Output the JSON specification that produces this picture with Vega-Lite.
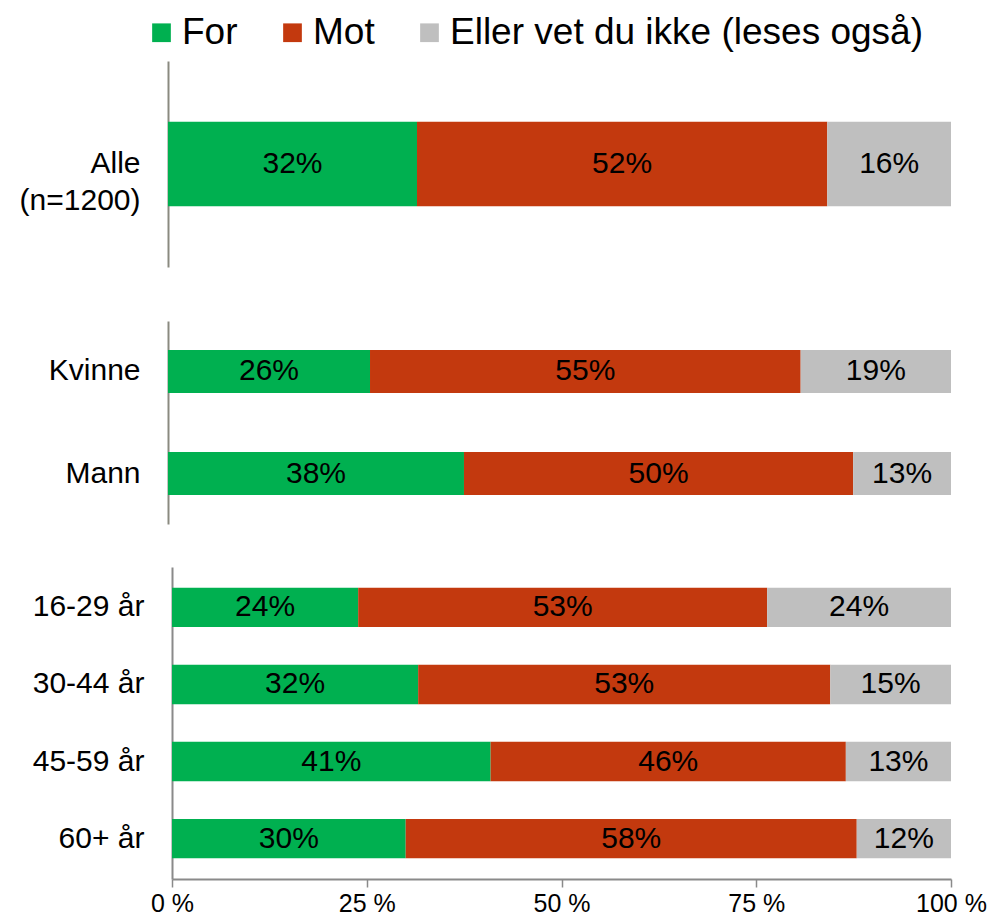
{
  "$schema": "https://vega.github.io/schema/vega-lite/v6.json",
  "background": "white",
  "padding": {"left": 7, "top": 14, "right": 40, "bottom": 0},
  "config": {
    "view": {"stroke": null},
    "font": "Liberation Sans",
    "axis": {"labelFont": "Liberation Sans", "labelColor": "black"},
    "legend": {"labelFont": "Liberation Sans"}
  },
  "datasets": {
    "d": [
      {"grp": "a", "cat": "Alle|(n=1200)", "resp": "For", "k": 1, "value": 31.8, "label": "32%"},
      {"grp": "a", "cat": "Alle|(n=1200)", "resp": "Mot", "k": 2, "value": 52.4, "label": "52%"},
      {"grp": "a", "cat": "Alle|(n=1200)", "resp": "Eller vet du ikke (leses også)", "k": 3, "value": 15.8, "label": "16%"},
      {"grp": "g", "cat": "Kvinne", "resp": "For", "k": 1, "value": 25.8, "label": "26%"},
      {"grp": "g", "cat": "Kvinne", "resp": "Mot", "k": 2, "value": 55.0, "label": "55%"},
      {"grp": "g", "cat": "Kvinne", "resp": "Eller vet du ikke (leses også)", "k": 3, "value": 19.2, "label": "19%"},
      {"grp": "g", "cat": "Mann", "resp": "For", "k": 1, "value": 37.8, "label": "38%"},
      {"grp": "g", "cat": "Mann", "resp": "Mot", "k": 2, "value": 49.7, "label": "50%"},
      {"grp": "g", "cat": "Mann", "resp": "Eller vet du ikke (leses også)", "k": 3, "value": 12.5, "label": "13%"},
      {"grp": "age", "cat": "16-29 år", "resp": "For", "k": 1, "value": 23.9, "label": "24%"},
      {"grp": "age", "cat": "16-29 år", "resp": "Mot", "k": 2, "value": 52.5, "label": "53%"},
      {"grp": "age", "cat": "16-29 år", "resp": "Eller vet du ikke (leses også)", "k": 3, "value": 23.6, "label": "24%"},
      {"grp": "age", "cat": "30-44 år", "resp": "For", "k": 1, "value": 31.6, "label": "32%"},
      {"grp": "age", "cat": "30-44 år", "resp": "Mot", "k": 2, "value": 52.9, "label": "53%"},
      {"grp": "age", "cat": "30-44 år", "resp": "Eller vet du ikke (leses også)", "k": 3, "value": 15.5, "label": "15%"},
      {"grp": "age", "cat": "45-59 år", "resp": "For", "k": 1, "value": 40.9, "label": "41%"},
      {"grp": "age", "cat": "45-59 år", "resp": "Mot", "k": 2, "value": 45.6, "label": "46%"},
      {"grp": "age", "cat": "45-59 år", "resp": "Eller vet du ikke (leses også)", "k": 3, "value": 13.5, "label": "13%"},
      {"grp": "age", "cat": "60+ år", "resp": "For", "k": 1, "value": 30.0, "label": "30%"},
      {"grp": "age", "cat": "60+ år", "resp": "Mot", "k": 2, "value": 57.9, "label": "58%"},
      {"grp": "age", "cat": "60+ år", "resp": "Eller vet du ikke (leses også)", "k": 3, "value": 12.1, "label": "12%"}
    ]
  },
  "align": "none",
  "spacing": 54,
  "vconcat": [
    {
      "width": 783, "height": 206,
      "data": {"name": "d"},
      "transform": [{"filter": "datum.grp === 'a'"}],
      "encoding": {
        "y": {"field": "cat", "type": "nominal", "sort": null, "title": null,
              "scale": {"paddingInner": 0.59, "paddingOuter": 0.296},
              "axis": {"ticks": false, "labelFontSize": 30, "labelPadding": 28, "labelLineHeight": 37,
                       "labelExpr": "split(datum.label, '|')", "domainColor": "#8a8a80", "domainWidth": 2,
                       "minExtent": 161, "maxExtent": 161}},
        "x": {"field": "value", "type": "quantitative", "stack": "zero", "scale": {"domain": [0, 100]}, "axis": null},
        "order": {"field": "k", "type": "quantitative"}
      },
      "layer": [
        {"mark": {"type": "bar"},
         "encoding": {"color": {"field": "resp", "type": "nominal", "sort": ["For", "Mot", "Eller vet du ikke (leses også)"],
           "scale": {"domain": ["For", "Mot", "Eller vet du ikke (leses også)"], "range": ["#00B050", "#C3390E", "#BFBFBF"]},
           "legend": {"orient": "none", "legendX": -25, "legendY": -47, "title": null, "direction": "horizontal", "labelFontSize": 37, "labelLimit": 0, "symbolType": "square", "symbolSize": 350, "symbolStrokeWidth": 0, "columnPadding": 36, "labelOffset": 2}}}},
        {"mark": {"type": "text", "fontSize": 30, "color": "black", "font": "Liberation Sans"},
         "encoding": {"x": {"field": "value", "type": "quantitative", "stack": "zero", "bandPosition": 0.5}, "text": {"field": "label"}}}
      ]
    },
    {
      "align": "none",
      "spacing": 43,
      "vconcat": [
        {
          "width": 783, "height": 203,
          "data": {"name": "d"},
          "transform": [{"filter": "datum.grp === 'g'"}],
          "encoding": {
            "y": {"field": "cat", "type": "nominal", "sort": null, "title": null,
                  "scale": {"paddingInner": 0.58, "paddingOuter": 0.285},
                  "axis": {"ticks": false, "labelFontSize": 30, "labelPadding": 28,
                           "domainColor": "#8a8a80", "domainWidth": 2, "minExtent": 161, "maxExtent": 161}},
            "x": {"field": "value", "type": "quantitative", "stack": "zero", "scale": {"domain": [0, 100]}, "axis": null},
            "order": {"field": "k", "type": "quantitative"}
          },
          "layer": [
            {"mark": {"type": "bar"},
             "encoding": {"color": {"field": "resp", "type": "nominal", "sort": ["For", "Mot", "Eller vet du ikke (leses også)"]}}},
            {"mark": {"type": "text", "fontSize": 30, "color": "black", "font": "Liberation Sans"},
             "encoding": {"x": {"field": "value", "type": "quantitative", "stack": "zero", "bandPosition": 0.5}, "text": {"field": "label"}}}
          ]
        },
        {
          "width": 783, "height": 312,
          "data": {"name": "d"},
          "transform": [{"filter": "datum.grp === 'age'"}],
          "encoding": {
            "y": {"field": "cat", "type": "nominal", "sort": null, "title": null,
                  "scale": {"paddingInner": 0.49, "paddingOuter": 0.27},
                  "axis": {"ticks": false, "labelFontSize": 30, "labelPadding": 28, "offset": -4,
                           "domainColor": "#8a8a8a", "domainWidth": 2, "minExtent": 161, "maxExtent": 161}},
            "x": {"field": "value", "type": "quantitative", "stack": "zero", "scale": {"domain": [0, 100], "range": [4, 783]},
                  "title": null,
                  "axis": {"values": [0, 25, 50, 75, 100], "labelExpr": "datum.value + ' %'", "labelFontSize": 25, "labelPadding": 4,
                           "tickSize": 8, "tickColor": "#8a8a8a", "domainColor": "#8a8a8a", "domainWidth": 2, "tickWidth": 1.5, "grid": false, "labelFlush": false}},
            "order": {"field": "k", "type": "quantitative"}
          },
          "layer": [
            {"mark": {"type": "bar"},
             "encoding": {"color": {"field": "resp", "type": "nominal", "sort": ["For", "Mot", "Eller vet du ikke (leses også)"]}}},
            {"mark": {"type": "text", "fontSize": 30, "color": "black", "font": "Liberation Sans"},
             "encoding": {"x": {"field": "value", "type": "quantitative", "stack": "zero", "bandPosition": 0.5}, "text": {"field": "label"}}}
          ]
        }
      ]
    }
  ]
}
